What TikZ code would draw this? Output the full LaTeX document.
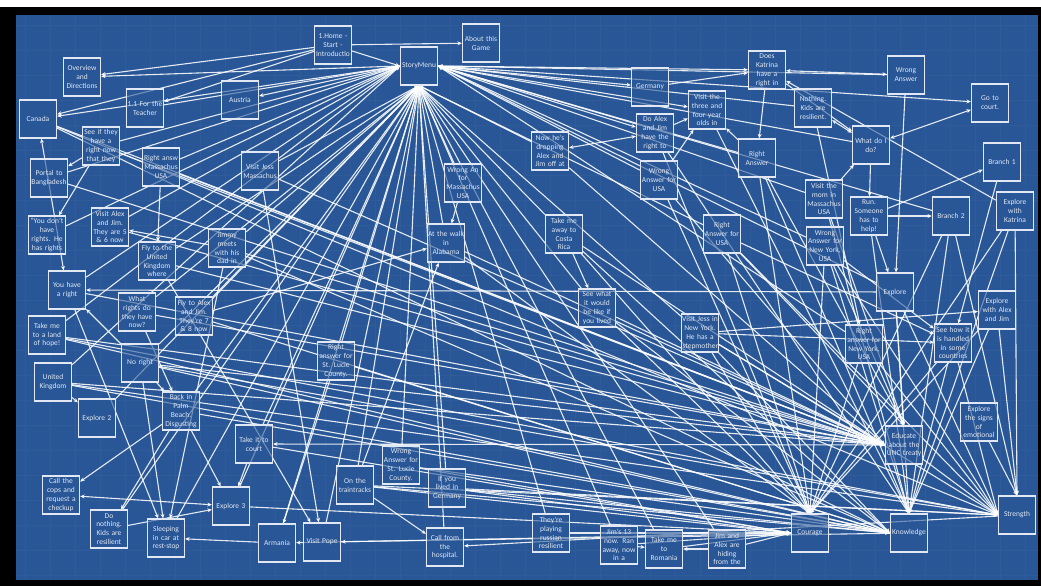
\documentclass[tikz,border=0pt]{standalone}
\usepackage{fontspec}
\setmainfont{Carlito}
\usetikzlibrary{arrows.meta}
\pgfdeclarelayer{bg}
\pgfdeclarelayer{edges}
\pgfsetlayers{bg,edges,main}
\definecolor{bp}{RGB}{40,86,150}
\definecolor{bx}{RGB}{225,232,243}
\newcommand{\keepline}[1]{\makebox[35pt]{#1}}
\tikzset{
 box/.style={draw=bx, line width=1.2pt, fill=bp, fill opacity=0.6, text opacity=1, text=bx,
   minimum width=37pt, minimum height=38pt, text width=35pt, align=center, inner sep=0pt,
   font=\fontsize{7.5}{8.9}\selectfont},
 e/.style={draw=white, line width=1.1pt, draw opacity=0.88, -{Stealth[length=4.5pt,width=4pt]}},
 eb/.style={draw=white, line width=1.1pt, draw opacity=0.88, {Stealth[length=4.5pt,width=4pt]}-{Stealth[length=4.5pt,width=4pt]}},
}
\begin{document}
\begin{tikzpicture}[x=1pt,y=-1pt]
\useasboundingbox (0,0) rectangle (1041,586);
\begin{pgfonlayer}{bg}
\fill[white] (0,0) rectangle (1041,586);
\fill[black] (0,7) rectangle (1041,586);
\fill[bp] (16,15) rectangle (1038,580);
\draw[white, draw opacity=0.035, step=25pt] (16,15) grid (1038,580);
\end{pgfonlayer}
% nodes
\node[box] (home) at (333,45) {1.Home -\\Start -\\\keepline{Introductio}};
\node[box] (about) at (481,43) {About this\\Game};
\node[box] (menu) at (419,66) {StoryMenu};
\node[box] (overview) at (82,77) {Overview\\and\\Directions};
\node[box] (canada) at (38,119) {Canada};
\node[box] (teacher) at (145,108) {\keepline{1.1 For the}\\Teacher};
\node[box] (austria) at (240,100) {Austria};
\node[box] (seeif) at (101,146) {\keepline{See if they}\\have a\\\keepline{right now}\\that they};
\node[box] (rightmass) at (161,167) {\keepline{Right answ}\\\keepline{Massachus}\\USA};
\node[box] (visitjess) at (260,171) {\keepline{Visit Jess}\\\keepline{Massachus}};
\node[box] (portal) at (49,178) {Portal to\\\keepline{Bangladesh}};
\node[box] (germany) at (650,87) {Germany};
\node[box] (katrina) at (767,70) {Does\\Katrina\\have a\\right in};
\node[box] (visit34) at (707,110) {Visit the\\\keepline{three and}\\\keepline{four year}\\olds in};
\node[box] (doalex) at (655,133) {Do Alex\\and Jim\\\keepline{have the}\\right to};
\node[box] (nowhes) at (550,151) {Now he's\\dropping\\Alex and\\\keepline{Jim off at}};
\node[box] (rightans) at (757,158) {Right\\Answer};
\node[box] (wrongusa) at (659,180) {Wrong\\\keepline{Answer for}\\USA};
\node[box] (wrongans) at (906,75) {Wrong\\Answer};
\node[box] (nothing) at (813,108) {Nothing.\\Kids are\\resilient.};
\node[box] (court) at (990,103) {Go to\\court.};
\node[box] (whatdo) at (871,145) {\keepline{What do I}\\do?};
\node[box] (branch1) at (1002,162) {Branch 1};
\node[box] (visitmom) at (824,199) {Visit the\\mom in\\\keepline{Massachus}\\USA};
\node[box] (run) at (869,216) {Run.\\Someone\\has to\\help!};
\node[box] (branch2) at (951,216) {Branch 2};
\node[box] (expkat) at (1015,211) {Explore\\with\\Katrina};
\node[box] (wrongny) at (825,246) {Wrong\\\keepline{Answer for}\\\keepline{New York,}\\USA};
\node[box] (explore) at (895,292) {Explore};
\node[box] (expaj) at (997,310) {Explore\\\keepline{with Alex}\\and Jim};
\node[box] (rightny) at (864,344) {Right\\\keepline{answer for}\\\keepline{New York,}\\USA};
\node[box] (seehow) at (953,343) {\keepline{See how it}\\\keepline{is handled}\\in some\\countries};
\node[box] (educate) at (904,445) {Educate\\\keepline{about the}\\\keepline{UNC treaty}};
\node[box] (signs) at (979,422) {Explore\\\keepline{the signs}\\of\\emotional};
\node[box] (strength) at (1017,515) {Strength};
\node[box] (knowledge) at (909,533) {Knowledge};
\node[box] (courage) at (810,533) {Courage};
\node[box] (playing) at (551,533) {They're\\playing\\russian\\resilient};
\node[box] (jims13) at (619,545) {Jim's 13\\\keepline{now. Ran}\\\keepline{away, now}\\in a};
\node[box] (romania) at (664,549) {Take me\\to\\Romania};
\node[box] (hiding) at (727,549) {Jim and\\\keepline{Alex are}\\hiding\\from the};
\node[box] (armania) at (277,543) {Armania};
\node[box] (pope) at (322,542) {\keepline{Visit Pope}};
\node[box] (train) at (355,485) {On the\\\keepline{traintracks}};
\node[box] (wrongstl) at (401,465) {Wrong\\\keepline{Answer for}\\\keepline{St. Lucie}\\County.};
\node[box] (ifgermany) at (447,488) {If you\\\keepline{lived in}\\Germany};
\node[box] (hospital) at (445,547) {\keepline{Call from}\\the\\hospital.};
\node[box] (explore2) at (97,418) {\keepline{Explore 2}};
\node[box] (palm) at (181,411) {Back in\\Palm\\Beach.\\\keepline{Disgusting}};
\node[box] (takecourt) at (254,444) {\keepline{Take it to}\\court};
\node[box] (cops) at (61,495) {Call the\\\keepline{cops and}\\\keepline{request a}\\checkup};
\node[box] (explore3) at (231,506) {\keepline{Explore 3}};
\node[box] (donothing) at (109,529) {Do\\nothing.\\\keepline{Kids are}\\resilient};
\node[box] (sleeping) at (166,538) {Sleeping\\\keepline{in car at}\\rest-stop};
\node[box] (uk) at (53,382) {United\\Kingdom};
\node[box] (donthave) at (47,235) {\keepline{"You don't}\\have\\\keepline{rights. He}\\\keepline{has rights}};
\node[box] (visitaj) at (110,227) {\keepline{Visit Alex}\\\keepline{and Jim.}\\\keepline{They are 5}\\\keepline{\& 6 now}};
\node[box] (flyuk) at (157,261) {\keepline{Fly to the}\\United\\Kingdom\\where};
\node[box] (jimmy) at (227,248) {Jimmy\\meets\\\keepline{with his}\\dad in};
\node[box] (haveright) at (67,290) {\keepline{You have}\\a right};
\node[box] (whatrights) at (137,312) {What\\\keepline{rights do}\\\keepline{they have}\\now?};
\node[box] (flyaj) at (194,316) {\keepline{Fly to Alex}\\\keepline{and Jim.}\\\keepline{They're 7}\\\keepline{\& 8 now}};
\node[box] (takeland) at (47,335) {Take me\\\keepline{to a land}\\\keepline{of hope!}};
\node[box] (noright) at (140,363) {\keepline{No right}};
\node[box] (alabama) at (446,243) {\keepline{At the walk}\\in\\Alabama};
\node[box] (wrongmass) at (463,183) {\keepline{Wrong An}\\for\\\keepline{Massachus}\\USA};
\node[box] (rightstl) at (336,361) {Right\\\keepline{answer for}\\\keepline{St. Lucie}\\County.};
\node[box] (costa) at (564,234) {Take me\\\keepline{away to}\\Costa\\Rica};
\node[box] (rightusa) at (722,234) {Right\\\keepline{Answer for}\\USA};
\node[box] (seewhat) at (597,308) {\keepline{See what}\\\keepline{it would}\\\keepline{be like if}\\\keepline{you lived}};
\node[box] (visitny) at (700,333) {\keepline{Visit Jess in}\\\keepline{New York.}\\\keepline{He has a}\\stepmother};

\begin{pgfonlayer}{edges}
% into StoryMenu (south)
\foreach \s in {visitjess,jimmy,flyuk,whatrights,flyaj,noright,palm,takecourt,explore3,sleeping,pope,armania,train,rightstl,wrongstl,ifgermany,hospital,alabama,wrongmass,seewhat,playing,jims13,romania,hiding,costa,visitny,nowhes,explore2,rightusa,donothing}
  \draw[e] (\s) -- (menu.south);
% into StoryMenu (west)
\foreach \s in {seeif,rightmass,portal,donthave,visitaj,takeland,haveright,teacher,uk}
  \draw[e] (\s) -- (menu.west);
% into StoryMenu (east)
\foreach \s in {rightans,wrongusa,nothing,visitmom,wrongny,rightny,wrongans,whatdo,explore,branch2}
  \draw[e] (\s) -- (menu.east);
% out of StoryMenu
\foreach \t in {overview,canada,austria}
  \draw[e] (menu.west) -- (\t);
\foreach \t in {germany,katrina,visit34,doalex,court}
  \draw[e] (menu.east) -- (\t);
% into Educate
\foreach \s in {canada,seeif,rightmass,visitjess,portal,visitaj,flyuk,jimmy,whatrights,takeland,noright,uk,alabama,seewhat,visitny,nowhes,wrongusa,haveright,costa}
  \draw[e] (\s) -- (educate.west);
\foreach \s in {explore,rightusa,visitmom,wrongny,rightans}
  \draw[e] (\s) -- (educate.north);
% into Knowledge
\foreach \s in {canada,takeland,uk,noright,palm,rightstl,wrongstl,ifgermany,train,jimmy,seewhat,visitny,flyaj,costa}
  \draw[e] (\s) -- (knowledge.west);
\foreach \s in {doalex,visit34,rightans,visitmom,wrongny,branch2,expaj,seehow,run,explore,expkat}
  \draw[e] (\s) -- (knowledge.north);
% into Courage
\foreach \s in {doalex,wrongusa,rightusa,visitny,rightans,seewhat,branch2,expaj,seehow,rightny,wrongny,expkat,costa,alabama}
  \draw[e] (\s) -- (courage.north);
\foreach \s in {ifgermany,train,playing,jims13,romania,hiding,explore3,wrongstl,takecourt}
  \draw[e] (\s) -- (courage.west);
% into Strength
\foreach \s in {rightny,explore,seehow,visitny,wrongny,takeland,uk,canada,ifgermany,rightusa,educate,noright,train}
  \draw[e] (\s) -- (strength.west);
\foreach \s in {expkat,expaj,branch2,signs}
  \draw[e] (\s) -- (strength.north);
% specific links
\draw[e] (home) -- (about);
\draw[e] (home) -- (menu.west);
\draw[e] (home) -- (teacher);
\draw[e] (home) -- (canada);
\draw[e] (home) -- (overview);
\draw[eb] (canada) -- (haveright);
\draw[e] (seeif) -- (portal);
\draw[e] (seeif) -- (donthave);
\draw[e] (rightmass) -- (flyuk);
\draw[e] (jimmy) -- (visitaj);
\draw[e] (noright) -- (haveright);
\draw[e] (explore) -- (haveright);
\draw[e] (noright) -- (palm);
\draw[e] (whatrights) -- (palm);
\draw[e] (uk) -- (explore2);
\draw[e] (palm) -- (cops);
\draw[e] (palm) -- (donothing);
\draw[e] (palm) -- (explore3);
\draw[e] (takecourt) -- (explore3);
\draw[eb] (cops) -- (explore3);
\draw[e] (donothing) -- (explore3);
\draw[e] (noright) -- (sleeping);
\draw[e] (jimmy) -- (sleeping);
\draw[e] (haveright) -- (sleeping);
\draw[e] (armania) -- (sleeping);
\draw[eb] (takecourt) -- (educate);
\draw[e] (train) -- (hospital);
\draw[e] (train) -- (alabama);
\draw[e] (wrongmass) -- (alabama);
\draw[e] (flyaj) -- (alabama);
\draw[e] (rightstl) -- (armania);
\draw[e] (visitjess) -- (pope);
\draw[e] (flyuk) -- (pope);
\draw[e] (courage) -- (armania);
\draw[e] (knowledge) -- (pope);
\draw[e] (strength) -- (hospital);
\draw[e] (hiding) -- (romania);
\draw[e] (jims13) -- (romania);
\draw[e] (costa) -- (seewhat);
\draw[eb] (nowhes) -- (doalex);
\draw[e] (doalex) -- (visit34);
\draw[e] (wrongusa) -- (visit34);
\draw[e] (rightans) -- (visit34);
\draw[eb] (katrina) -- (wrongans);
\draw[e] (germany) -- (katrina);
\draw[e] (katrina) -- (rightans);
\draw[e] (expkat) -- (katrina);
\draw[e] (katrina) -- (whatdo);
\draw[eb] (nothing) -- (whatdo);
\draw[eb] (whatdo) -- (court);
\draw[e] (wrongans) -- (explore);
\draw[e] (whatdo) -- (run);
\draw[e] (run) -- (explore);
\draw[e] (run) -- (branch1);
\draw[e] (run) -- (branch2);
\draw[e] (visitmom) -- (whatdo);
\draw[e] (nothing) -- (rightny);
\draw[e] (branch1) -- (seehow);
\draw[e] (visitny) -- (expaj);
\draw[e] (rightusa) -- (seehow);
\draw[e] (visitny) -- (seehow);
\draw[e] (wrongny) -- (seehow);
\end{pgfonlayer}
\end{tikzpicture}
\end{document}
